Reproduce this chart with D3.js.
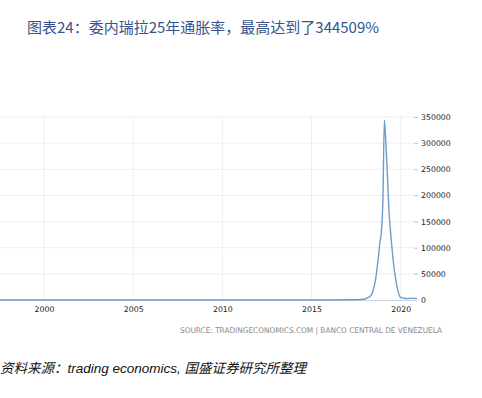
<!DOCTYPE html>
<html>
<head>
<meta charset="utf-8">
<script src="https://cdn.jsdelivr.net/npm/d3@7/dist/d3.min.js"></script>
<style>
html,body{margin:0;padding:0;background:#fff;}
svg{display:block;}
</style>
</head>
<body>
<svg id="chart" width="482" height="398"></svg>
<script>
// ---- data ----
const titleText = "图表24：委内瑞拉25年通胀率，最高达到了344509%";
const sourceText = "SOURCE: TRADINGECONOMICS.COM | BANCO CENTRAL DE VENEZUELA";
const footerText = "资料来源：trading economics, 国盛证券研究所整理";

const dates = [
  "1997-01","1998-01","1999-01","2000-01","2001-01","2002-01","2003-01","2004-01",
  "2005-01","2006-01","2007-01","2008-01","2009-01","2010-01","2011-01","2012-01",
  "2013-01","2014-01","2015-01","2016-01","2017-01","2017-07",
  "2018-01","2018-02","2018-03","2018-04","2018-05","2018-06","2018-07","2018-08",
  "2018-09","2018-10","2018-11","2018-12",
  "2019-01","2019-02","2019-03","2019-04","2019-05","2019-06","2019-07","2019-08",
  "2019-09","2019-10","2019-11","2019-12",
  "2020-01","2020-02","2020-03","2020-04","2020-05","2020-06","2020-07","2020-08",
  "2020-09","2020-10","2020-11","2020-12"
];
const inflation = [
  80, 36, 23, 20, 13, 19, 34, 23,
  16, 14, 19, 30, 28, 27, 27, 22,
  22, 56, 69, 140, 450, 600,
  2000, 3000, 4500, 6000, 9000, 14000, 24000, 38000,
  58000, 82000, 110000, 130060,
  190000, 344509, 305000, 245000, 178000, 137000, 105000, 75000,
  52000, 34000, 19000, 9500,
  5000, 4000, 3500, 3000, 2800, 2700, 3000, 3300,
  3200, 3000, 2900, 2960
];
const yTicks = [0, 50000, 100000, 150000, 200000, 250000, 300000, 350000];
const xTickYears = [2000, 2005, 2010, 2015, 2020];

// ---- drawing ----
const svg = d3.select("#chart");
const parse = d3.timeParse("%Y-%m");
const data = dates.map((d, i) => ({date: parse(d), value: inflation[i]}));

const x = d3.scaleTime()
  .domain([new Date(2000, 0, 1), new Date(2020, 0, 1)])
  .range([44, 400.7]);
const y = d3.scaleLinear().domain([0, 350000]).range([300, 117]);
const plotRight = 418;

// title
svg.append("text")
  .attr("x", 27).attr("y", 33)
  .attr("font-family", "'Noto Sans CJK SC', 'Liberation Sans', sans-serif")
  .attr("font-size", 15)
  .attr("fill", "#36538c")
  .text(titleText);

// gridlines
const grid = svg.append("g");
grid.selectAll("line.h").data(yTicks.filter(d => d > 0)).enter().append("line")
  .attr("x1", 0).attr("x2", plotRight)
  .attr("y1", d => y(d)).attr("y2", d => y(d))
  .attr("stroke", "#eceff4").attr("stroke-width", 1);
grid.selectAll("line.v").data(xTickYears).enter().append("line")
  .attr("x1", d => x(new Date(d, 0, 1))).attr("x2", d => x(new Date(d, 0, 1)))
  .attr("y1", y(350000)).attr("y2", 300)
  .attr("stroke", "#eceff4").attr("stroke-width", 1);

// y axis (right)
const yAxis = d3.axisRight(y).tickValues(yTicks).tickSize(4).tickPadding(3)
  .tickFormat(d3.format("d"));
const yg = svg.append("g").attr("transform", `translate(${plotRight - 4},0)`).call(yAxis);
yg.select(".domain").remove();
yg.selectAll(".tick line").attr("stroke", "#c8ccd4");
yg.selectAll("text").attr("font-family", "'DejaVu Sans', sans-serif")
  .attr("font-size", 7.8).attr("fill", "#222");

// x axis
const xAxis = d3.axisBottom(x).tickValues(xTickYears.map(v => new Date(v, 0, 1)))
  .tickSize(0).tickPadding(6).tickFormat(d3.timeFormat("%Y"));
const xg = svg.append("g").attr("transform", "translate(0,300)").call(xAxis);
xg.select(".domain").remove();
xg.selectAll("text").attr("font-family", "'DejaVu Sans', sans-serif")
  .attr("font-size", 7.8).attr("fill", "#222");

// baseline
svg.append("line").attr("x1", 0).attr("x2", plotRight)
  .attr("y1", 300.5).attr("y2", 300.5)
  .attr("stroke", "#c5d5ea").attr("stroke-width", 1);

// line
const line = d3.line().x(d => x(d.date)).y(d => y(d.value)).curve(d3.curveMonotoneX);
svg.append("path").datum(data)
  .attr("d", line)
  .attr("fill", "none")
  .attr("stroke", "#6f9ccb")
  .attr("stroke-width", 1.4);

// source
svg.append("text")
  .attr("x", 442).attr("y", 333)
  .attr("text-anchor", "end")
  .attr("font-family", "'DejaVu Sans Condensed', 'DejaVu Sans', sans-serif")
  .attr("font-size", 7.8)
  .attr("fill", "#8a8a8a")
  .attr("textLength", 262).attr("lengthAdjust", "spacingAndGlyphs")
  .text(sourceText);

// footer
svg.append("text")
  .attr("x", 0).attr("y", 373)
  .attr("font-family", "'Liberation Sans', 'Noto Sans CJK SC', sans-serif")
  .attr("font-size", 13.5)
  .attr("font-style", "italic")
  .attr("fill", "#111")
  .text(footerText);
</script>
</body>
</html>
